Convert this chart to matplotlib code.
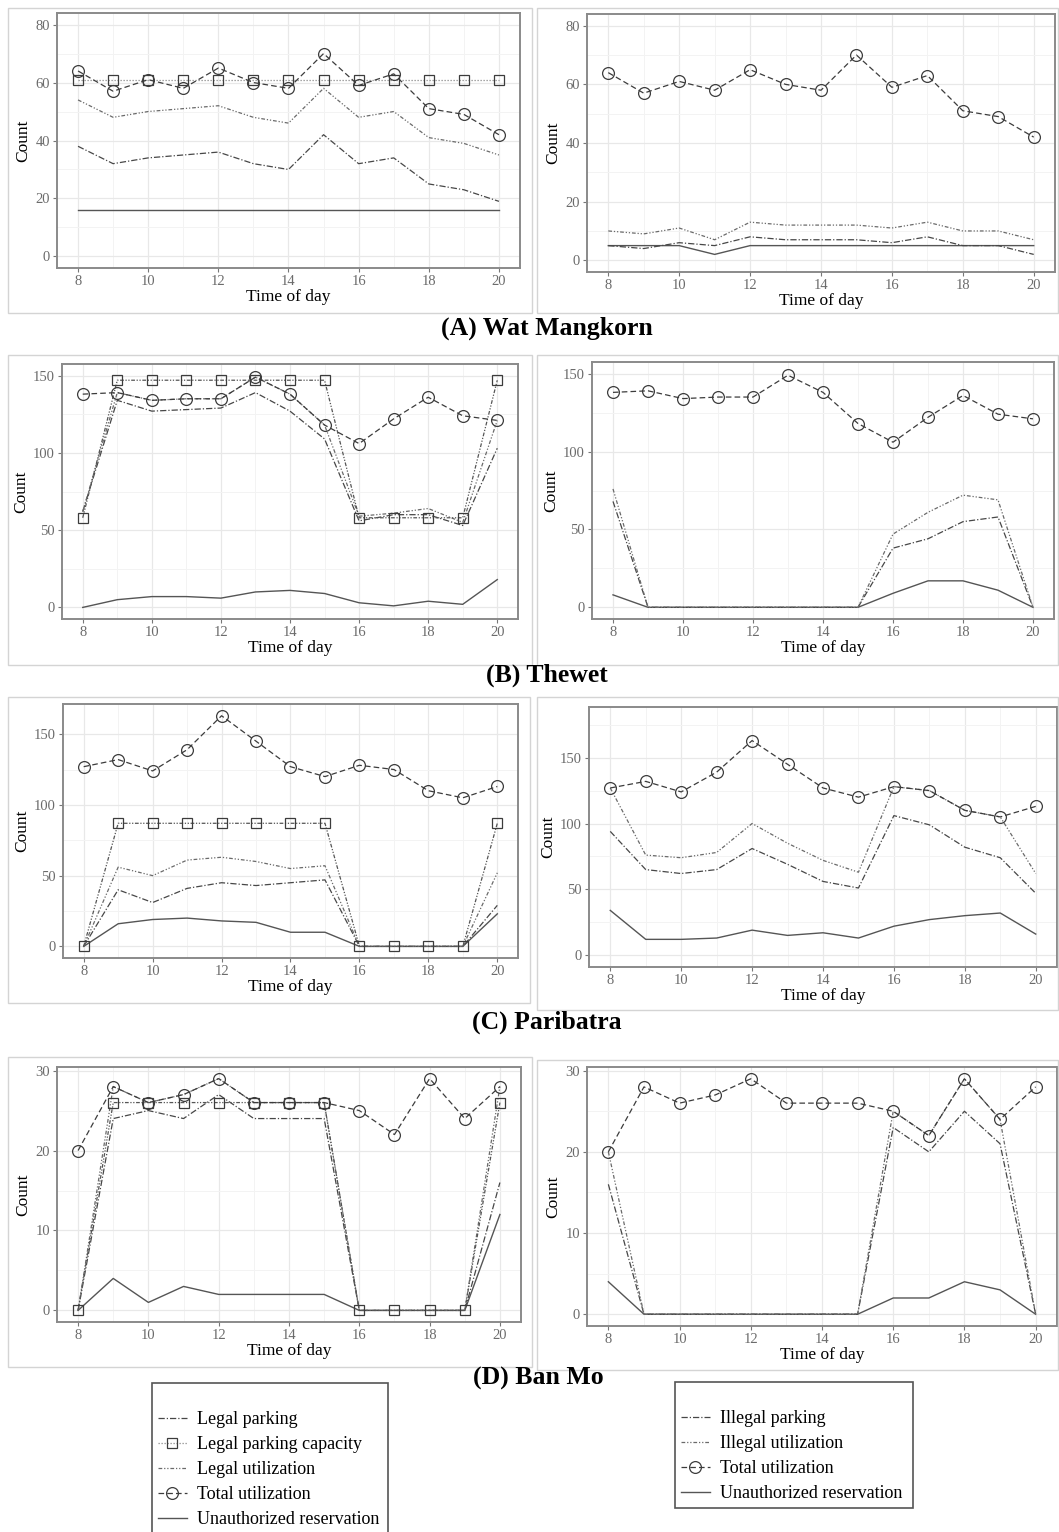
import matplotlib
matplotlib.use("Agg")
import matplotlib.pyplot as plt
from matplotlib.lines import Line2D
from matplotlib.patches import Rectangle

plt.rcParams['font.family'] = ['Liberation Serif', 'DejaVu Serif']

hours = [8, 9, 10, 11, 12, 13, 14, 15, 16, 17, 18, 19, 20]

# Wat Mangkorn
wm_total = [64, 57, 61, 58, 65, 60, 58, 70, 59, 63, 51, 49, 42]
wm_capacity = [61, 61, 61, 61, 61, 61, 61, 61, 61, 61, 61, 61, 61]
wm_legal_parking = [38, 32, 34, 35, 36, 32, 30, 42, 32, 34, 25, 23, 19]
wm_legal_util = [54, 48, 50, 51, 52, 48, 46, 58, 48, 50, 41, 39, 35]
wm_legal_unauth = [16, 16, 16, 16, 16, 16, 16, 16, 16, 16, 16, 16, 16]
wm_illegal_parking = [5, 4, 6, 5, 8, 7, 7, 7, 6, 8, 5, 5, 2]
wm_illegal_util = [10, 9, 11, 7, 13, 12, 12, 12, 11, 13, 10, 10, 7]
wm_illegal_unauth = [5, 5, 5, 2, 5, 5, 5, 5, 5, 5, 5, 5, 5]

# Thewet
tw_total = [138, 139, 134, 135, 135, 149, 138, 118, 106, 122, 136, 124, 121]
tw_capacity = [58, 147, 147, 147, 147, 147, 147, 147, 58, 58, 58, 58, 147]
tw_legal_parking = [62, 134, 127, 128, 129, 139, 127, 109, 56, 60, 60, 53, 103]
tw_legal_util = [62, 139, 134, 135, 135, 149, 138, 118, 59, 61, 64, 55, 121]
tw_legal_unauth = [0, 5, 7, 7, 6, 10, 11, 9, 3, 1, 4, 2, 18]
tw_illegal_parking = [68, 0, 0, 0, 0, 0, 0, 0, 38, 44, 55, 58, 0]
tw_illegal_util = [76, 0, 0, 0, 0, 0, 0, 0, 47, 61, 72, 69, 0]
tw_illegal_unauth = [8, 0, 0, 0, 0, 0, 0, 0, 9, 17, 17, 11, 0]

# Paribatra
pb_total = [127, 132, 124, 139, 163, 145, 127, 120, 128, 125, 110, 105, 113]
pb_capacity = [0, 87, 87, 87, 87, 87, 87, 87, 0, 0, 0, 0, 87]
pb_legal_parking = [0, 40, 31, 41, 45, 43, 45, 47, 0, 0, 0, 0, 29]
pb_legal_util = [0, 56, 50, 61, 63, 60, 55, 57, 0, 0, 0, 0, 52]
pb_legal_unauth = [0, 16, 19, 20, 18, 17, 10, 10, 0, 0, 0, 0, 23]
pb_illegal_parking = [94, 65, 62, 65, 81, 69, 56, 51, 106, 99, 82, 74, 47]
pb_illegal_util = [127, 76, 74, 78, 100, 85, 72, 63, 128, 125, 110, 105, 62]
pb_illegal_unauth = [34, 12, 12, 13, 19, 15, 17, 13, 22, 27, 30, 32, 16]

# Ban Mo
bm_total = [20, 28, 26, 27, 29, 26, 26, 26, 25, 22, 29, 24, 28]
bm_capacity = [0, 26, 26, 26, 26, 26, 26, 26, 0, 0, 0, 0, 26]
bm_legal_parking = [0, 24, 25, 24, 27, 24, 24, 24, 0, 0, 0, 0, 16]
bm_legal_util = [0, 28, 26, 27, 29, 26, 26, 26, 0, 0, 0, 0, 28]
bm_legal_unauth = [0, 4, 1, 3, 2, 2, 2, 2, 0, 0, 0, 0, 12]
bm_illegal_parking = [16, 0, 0, 0, 0, 0, 0, 0, 23, 20, 25, 21, 0]
bm_illegal_util = [20, 0, 0, 0, 0, 0, 0, 0, 25, 22, 29, 24, 0]
bm_illegal_unauth = [4, 0, 0, 0, 0, 0, 0, 0, 2, 2, 4, 3, 0]

captions = ["(A) Wat Mangkorn", "(B) Thewet", "(C) Paribatra", "(D) Ban Mo"]

W, H = 1059, 1532
fig = plt.figure(figsize=(W / 100, H / 100), dpi=100)

# line styles
st_parking = dict(color='#474747', lw=0.9, dashes=(5, 1.6, 1, 1.6))
st_util = dict(color='#6a6a6a', lw=0.9, dashes=(3, 1.5, 1, 1.5, 1, 1.5))
st_total = dict(color='#3c3c3c', lw=0.9, dashes=(4.5, 2.5), marker='o', ms=8.5,
                mfc='none', mec='#3c3c3c', mew=0.9)
st_unauth = dict(color='#555555', lw=1.0, ls='-')
st_cap_dot = dict(color='#8a8a8a', lw=0.9, dashes=(1, 1.4), marker='s', ms=7.5,
                  mfc='none', mec='#3c3c3c', mew=0.9)
st_cap = dict(color='#555555', lw=0.9, dashes=(3, 1.3, 1, 1.3, 1, 1.3), marker='s',
              ms=7.5, mfc='none', mec='#3c3c3c', mew=0.9)


def px_axes(x0, y0, x1, y1):
    return fig.add_axes([x0 / W, 1 - y1 / H, (x1 - x0) / W, (y1 - y0) / H])


def frame(x0, y0, x1, y1):
    fig.add_artist(Rectangle((x0 / W, 1 - y1 / H), (x1 - x0) / W, (y1 - y0) / H,
                             transform=fig.transFigure, fill=False,
                             ec='#d4d4d4', lw=1.0))


def style(ax, ylim, yticks, yminor):
    ax.set_xlim(7.4, 20.6)
    ax.set_ylim(*ylim)
    ax.set_xticks(range(8, 21, 2))
    ax.set_xticks(range(9, 20, 2), minor=True)
    ax.set_yticks(yticks)
    ax.set_yticks(yminor, minor=True)
    ax.grid(which='major', color='#e8e8e8', lw=0.9)
    ax.grid(which='minor', color='#f3f3f3', lw=0.7)
    ax.set_axisbelow(True)
    for sp in ax.spines.values():
        sp.set_color('#8a8a8a')
        sp.set_linewidth(1.4)
    ax.tick_params(which='major', length=3, color='#777777', width=0.8,
                   labelsize=10.5, labelcolor='#6b6b6b', pad=2)
    ax.tick_params(which='minor', length=0)
    ax.set_xlabel('Time of day', fontsize=12.5, labelpad=1)
    ax.set_ylabel('Count', fontsize=12.5, labelpad=3)


def legal_panel(ax, parking, cap, util, total, unauth, cap_style):
    ax.plot(hours, unauth, **st_unauth)
    ax.plot(hours, parking, **st_parking)
    ax.plot(hours, util, **st_util)
    ax.plot(hours, cap, **cap_style)
    ax.plot(hours, total, **st_total)


def illegal_panel(ax, parking, util, total, unauth):
    ax.plot(hours, unauth, **st_unauth)
    ax.plot(hours, parking, **st_parking)
    ax.plot(hours, util, **st_util)
    ax.plot(hours, total, **st_total)


# outer panel frames
frame(8, 8, 532, 313); frame(537, 8, 1058, 313)
frame(8, 355, 532, 665); frame(537, 355, 1058, 665)
frame(8, 697, 530, 1003); frame(537, 697, 1058, 1010)
frame(8, 1057, 532, 1367); frame(537, 1060, 1058, 1370)

# (A) Wat Mangkorn
ax = px_axes(57, 13, 520, 268)
legal_panel(ax, wm_legal_parking, wm_capacity, wm_legal_util, wm_total, wm_legal_unauth, st_cap_dot)
style(ax, (-4, 84), [0, 20, 40, 60, 80], [10, 30, 50, 70])
ax = px_axes(587, 14, 1055, 272)
illegal_panel(ax, wm_illegal_parking, wm_illegal_util, wm_total, wm_illegal_unauth)
style(ax, (-4, 84), [0, 20, 40, 60, 80], [10, 30, 50, 70])

# (B) Thewet
ax = px_axes(62, 364, 518, 619)
legal_panel(ax, tw_legal_parking, tw_capacity, tw_legal_util, tw_total, tw_legal_unauth, st_cap)
style(ax, (-7.5, 157.5), [0, 50, 100, 150], [25, 75, 125])
ax = px_axes(592, 362, 1054, 619)
illegal_panel(ax, tw_illegal_parking, tw_illegal_util, tw_total, tw_illegal_unauth)
style(ax, (-7.5, 157.5), [0, 50, 100, 150], [25, 75, 125])

# (C) Paribatra
ax = px_axes(63, 704, 518, 958)
legal_panel(ax, pb_legal_parking, pb_capacity, pb_legal_util, pb_total, pb_legal_unauth, st_cap)
style(ax, (-8.2, 171.3), [0, 50, 100, 150], [25, 75, 125])
ax = px_axes(589, 707, 1057, 967)
illegal_panel(ax, pb_illegal_parking, pb_illegal_util, pb_total, pb_illegal_unauth)
style(ax, (-9, 188.5), [0, 50, 100, 150], [25, 75, 125, 175])

# (D) Ban Mo
ax = px_axes(57, 1067, 521, 1322)
legal_panel(ax, bm_legal_parking, bm_capacity, bm_legal_util, bm_total, bm_legal_unauth, st_cap)
style(ax, (-1.45, 30.45), [0, 10, 20, 30], [5, 15, 25])
ax = px_axes(587, 1067, 1057, 1326)
illegal_panel(ax, bm_illegal_parking, bm_illegal_util, bm_total, bm_illegal_unauth)
style(ax, (-1.45, 30.45), [0, 10, 20, 30], [5, 15, 25])

# captions
for text, (cx, cy) in zip(captions, [(547, 328), (547, 675), (547, 1022), (538, 1378)]):
    fig.text(cx / W, 1 - cy / H, text, ha='center', va='center',
             fontsize=18.5, fontweight='bold')

# legends
frame_kw = dict(transform=fig.transFigure, fill=False, ec='#555555', lw=1.2)
fig.add_artist(Rectangle((152 / W, 1 - 1545 / H), 236 / W, 162 / H, **frame_kw))
fig.add_artist(Rectangle((675 / W, 1 - 1508 / H), 238 / W, 126 / H, **frame_kw))

legal_handles = [Line2D([], [], **st_parking), Line2D([], [], **st_cap_dot),
                 Line2D([], [], **st_util), Line2D([], [], **st_total),
                 Line2D([], [], **st_unauth)]
legal_labels = ["Legal parking", "Legal parking capacity", "Legal utilization",
                "Total utilization", "Unauthorized reservation"]
illegal_handles = [Line2D([], [], **st_parking), Line2D([], [], **st_util),
                   Line2D([], [], **st_total), Line2D([], [], **st_unauth)]
illegal_labels = ["Illegal parking", "Illegal utilization", "Total utilization",
                  "Unauthorized reservation"]

leg_kw = dict(loc='upper left', frameon=False, fontsize=13, handlelength=1.6,
              handletextpad=0.55, labelspacing=0.45, borderaxespad=0, borderpad=0)
fig.legend(legal_handles, legal_labels, bbox_to_anchor=(158 / W, 1 - 1411 / H), **leg_kw)
fig.legend(illegal_handles, illegal_labels, bbox_to_anchor=(681 / W, 1 - 1410 / H), **leg_kw)

fig.savefig('out.png', dpi=100, facecolor='white')
